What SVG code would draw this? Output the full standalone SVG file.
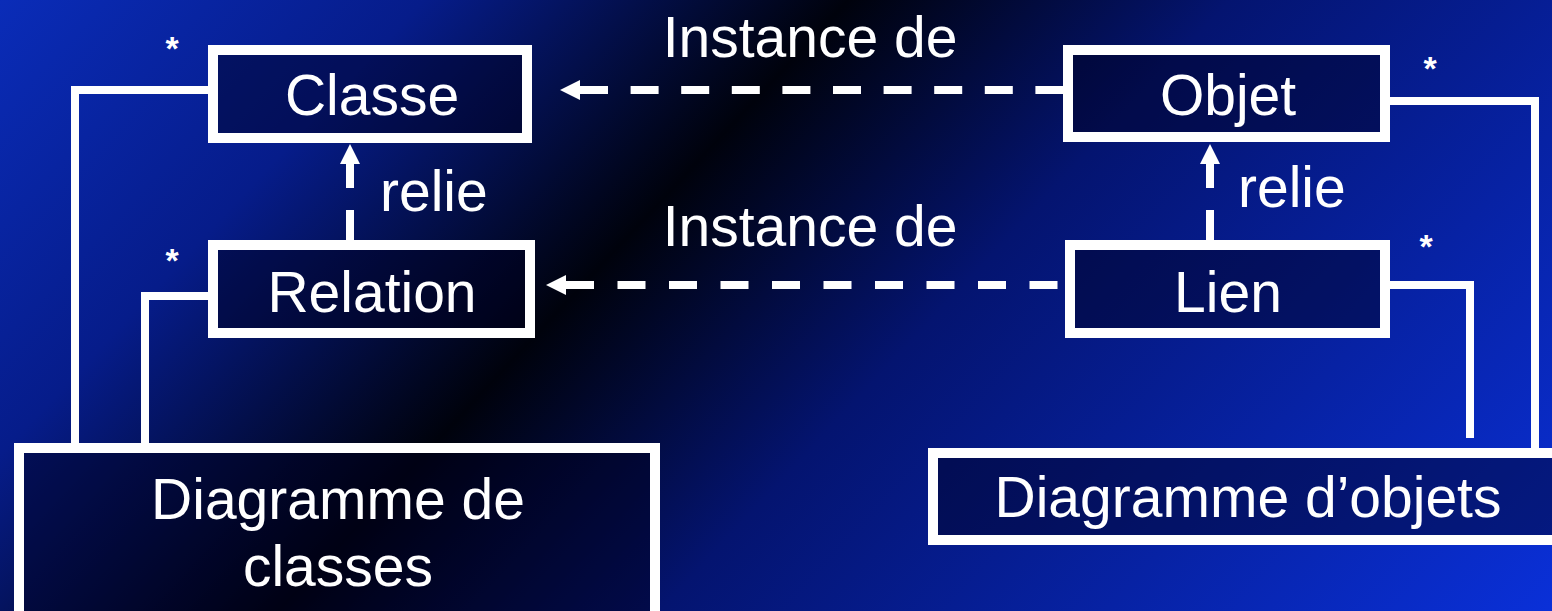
<svg xmlns="http://www.w3.org/2000/svg" width="1552" height="611" viewBox="0 0 1552 611">
  <defs>
    <linearGradient id="bg" gradientUnits="userSpaceOnUse" x1="0" y1="0" x2="1134" y2="1058">
      <stop offset="0" stop-color="#0a2cb8"/>
      <stop offset="0.2" stop-color="#061c8a"/>
      <stop offset="0.4" stop-color="#00020c"/>
      <stop offset="0.58" stop-color="#041470"/>
      <stop offset="1" stop-color="#0a30d8"/>
    </linearGradient>
    <marker id="head" viewBox="0 0 10 10" refX="0" refY="5" markerUnits="userSpaceOnUse" markerWidth="22" markerHeight="20" orient="auto-start-reverse">
      <path d="M0,0 L10,5 L0,10 Z" fill="#ffffff"/>
    </marker>
    <style>
      .box { fill: #000020; fill-opacity: 0.45; stroke: #ffffff; stroke-width: 10; }
      .lbl { font-family: "Liberation Sans", Arial, sans-serif; font-size: 57px; fill: #ffffff; text-anchor: middle; }
      .side { font-family: "Liberation Sans", Arial, sans-serif; font-size: 57px; fill: #ffffff; }
      .star { font-family: "Liberation Sans", Arial, sans-serif; font-size: 34px; font-weight: bold; fill: #ffffff; text-anchor: middle; }
      .link { fill: none; stroke: #ffffff; stroke-width: 8; }
      .dash { fill: none; stroke: #ffffff; stroke-width: 8; }
    </style>
  </defs>

  <rect x="0" y="0" width="1552" height="611" fill="url(#bg)"/>

  <!-- connectors -->
  <g id="connectors">
    <!-- composition lines to the two diagrams -->
    <path class="link" d="M208,90 H75 V443"/>
    <path class="link" d="M208,296 H145 V443"/>
    <path class="link" d="M1390,101 H1535 V448"/>
    <path class="link" d="M1390,285 H1470 V438"/>
    <!-- instance-of links, drawn from the arrowhead end; dash lengths fit the span -->
    <path class="dash" d="M580,90 H1063" stroke-dasharray="28 22.6" marker-start="url(#head)"/>
    <path class="dash" d="M566,285 H1058" stroke-dasharray="28 23.5" marker-start="url(#head)"/>
    <!-- relie links -->
    <path class="link" d="M350,240 V210"/>
    <path class="link" d="M350,188 V164" marker-end="url(#head)"/>
    <path class="link" d="M1210,240 V210"/>
    <path class="link" d="M1210,188 V164" marker-end="url(#head)"/>
    <text class="side" x="380" y="211">relie</text>
    <text class="side" x="1238" y="207">relie</text>
    <text class="lbl" x="810" y="57">Instance de</text>
    <text class="lbl" x="810" y="246">Instance de</text>
    <!-- multiplicities -->
    <text class="star" x="172" y="60">*</text>
    <text class="star" x="172" y="272">*</text>
    <text class="star" x="1430" y="80">*</text>
    <text class="star" x="1426" y="258">*</text>
  </g>

  <g id="classe">
    <rect class="box" x="213" y="50" width="314" height="88"/>
    <text class="lbl" x="372" y="115">Classe</text>
  </g>

  <g id="relation">
    <rect class="box" x="213" y="245" width="317" height="88"/>
    <text class="lbl" x="372" y="312">Relation</text>
  </g>

  <g id="objet">
    <rect class="box" x="1068" y="50" width="317" height="87"/>
    <text class="lbl" x="1228" y="115">Objet</text>
  </g>

  <g id="lien">
    <rect class="box" x="1070" y="245" width="315" height="88"/>
    <text class="lbl" x="1228" y="312">Lien</text>
  </g>

  <g id="diagramme-classes">
    <rect class="box" x="19" y="448" width="636" height="175"/>
    <text class="lbl" x="338" y="519">Diagramme de</text>
    <text class="lbl" x="338" y="586">classes</text>
  </g>

  <g id="diagramme-objets">
    <rect class="box" x="933" y="453" width="640" height="87"/>
    <text class="lbl" x="1248" y="517">Diagramme d’objets</text>
  </g>
</svg>
